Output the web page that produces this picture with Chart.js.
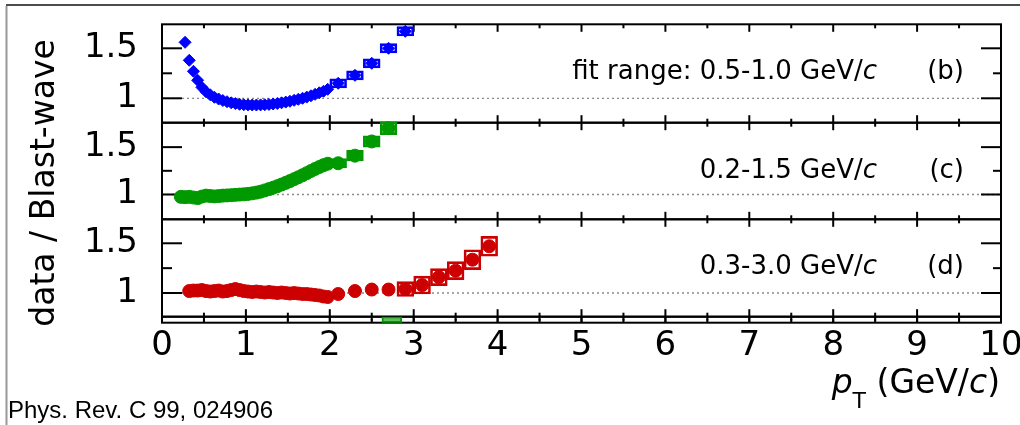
<!DOCTYPE html>
<html>
<head>
<meta charset="utf-8">
<script src="https://cdn.jsdelivr.net/npm/chart.js@4.4.1/dist/chart.umd.min.js"></script>
<style>
  html, body { margin: 0; padding: 0; background: #fff; }
  #wrap { position: relative; width: 1020px; height: 425px; }
</style>
</head>
<body>
<div id="wrap"><canvas id="chart" width="1020" height="425"></canvas></div>
<script>
const FONT = "'DejaVu Sans', sans-serif";

// panel (b): fit range 0.5-1.0 GeV/c
const bX = [0.275, 0.325, 0.375, 0.425, 0.475, 0.525, 0.575, 0.625, 0.675, 0.725, 0.775, 0.825, 0.875, 0.925, 0.975,
  1.025, 1.075, 1.125, 1.175, 1.225, 1.275, 1.325, 1.375, 1.425, 1.475, 1.525, 1.575, 1.625, 1.675, 1.725, 1.775,
  1.825, 1.875, 1.925, 1.975, 2.1, 2.3, 2.5, 2.7, 2.9];
const bY = [1.56, 1.38, 1.27, 1.18, 1.11, 1.065, 1.035, 1.01, 0.993, 0.978, 0.966, 0.955, 0.947, 0.94, 0.936,
  0.934, 0.933, 0.933, 0.934, 0.936, 0.939, 0.943, 0.948, 0.955, 0.962, 0.97, 0.98, 0.99, 1.0, 1.012, 1.025,
  1.04, 1.055, 1.07, 1.09, 1.15, 1.23, 1.35, 1.5, 1.67];
const bBoxX = [2.1, 2.3, 2.5, 2.7, 2.9];
const bSys = [0.045, 0.045, 0.045, 0.047, 0.047];

// panel (c): fit range 0.2-1.5 GeV/c
const gX = [0.225, 0.275, 0.325, 0.375, 0.425, 0.475, 0.525, 0.575, 0.625, 0.675, 0.725, 0.775, 0.825, 0.875, 0.925,
  0.975, 1.025, 1.075, 1.125, 1.175, 1.225, 1.275, 1.325, 1.375, 1.425, 1.475, 1.525, 1.575, 1.625, 1.675, 1.725,
  1.775, 1.825, 1.875, 1.925, 1.975, 2.1, 2.3, 2.5, 2.7];
const gY = [0.975, 0.972, 0.975, 0.968, 0.962, 0.978, 0.988, 0.984, 0.98, 0.983, 0.988, 0.99, 0.993, 0.996, 0.999,
  1.002, 1.006, 1.012, 1.02, 1.03, 1.043, 1.057, 1.072, 1.088, 1.105, 1.123, 1.142, 1.162, 1.182, 1.203, 1.225,
  1.248, 1.27, 1.29, 1.31, 1.325, 1.33, 1.41, 1.56, 1.7];
const gBoxX = [2.1, 2.3, 2.5, 2.7];
const gSys = [0.05, 0.055, 0.06, 0.068];

// panel (d): fit range 0.3-3.0 GeV/c
const rX = [0.325, 0.375, 0.425, 0.475, 0.525, 0.575, 0.625, 0.675, 0.725, 0.775, 0.825, 0.875, 0.925, 0.975,
  1.025, 1.075, 1.125, 1.175, 1.225, 1.275, 1.325, 1.375, 1.425, 1.475, 1.525, 1.575, 1.625, 1.675, 1.725, 1.775,
  1.825, 1.875, 1.925, 1.975, 2.1, 2.3, 2.5, 2.7, 2.9, 3.1, 3.3, 3.5, 3.7, 3.9];
const rY = [1.02, 1.025, 1.025, 1.03, 1.02, 1.015, 1.02, 1.025, 1.015, 1.02, 1.03, 1.04, 1.03, 1.02,
  1.015, 1.01, 1.015, 1.01, 1.005, 1.01, 1.005, 1.0, 1.005, 1.0, 0.995, 1.0, 0.995, 0.99, 0.99, 0.985,
  0.98, 0.975, 0.965, 0.96, 0.99, 1.02, 1.035, 1.035, 1.04, 1.08, 1.16, 1.225, 1.335, 1.47];
const rBoxX = [2.9, 3.1, 3.3, 3.5, 3.7, 3.9];
const rSys = [0.075, 0.09, 0.085, 0.09, 0.1, 0.1];

// the panel below (d) only shows the edge of one green box
const stripX = [2.74];
const stripRange = [0, 1];

const panelIds = ["yb", "yc", "yd"];
const panelMin = [0.756, 0.738, 0.762];
const panelMax = [1.74, 1.758, 1.741];
const fitText = ["fit range: 0.5-1.0 GeV/", "0.2-1.5 GeV/", "0.3-3.0 GeV/"];
const panelTags = ["(b)", "(c)", "(d)"];
const yTickValues = [1, 1.5];
const yMinorValues = [1.25];
const xTickLabels = ["0", "1", "2", "3", "4", "5", "6", "7", "8", "9", "10"];

const series = [
  { x: bX, y: bY, boxX: bBoxX, sys: bSys, axis: "yb", color: "#0000ff", style: "rectRot", r: 6 },
  { x: gX, y: gY, boxX: gBoxX, sys: gSys, axis: "yc", color: "#009a00", style: "circle", r: 6.5 },
  { x: rX, y: rY, boxX: rBoxX, sys: rSys, axis: "yd", color: "#cc0000", style: "circle", r: 6.5 },
];

const datasets = [];
series.forEach((s) => {
  datasets.push({
    type: "scatter",
    data: s.x.map((v, i) => ({ x: v, y: s.y[i] })),
    yAxisID: s.axis,
    pointStyle: s.style,
    pointRadius: s.r,
    backgroundColor: s.color,
    borderColor: s.color,
    borderWidth: 1,
    clip: false,
    order: 1,
  });
  // systematic boxes
  datasets.push({
    type: "bar",
    data: s.boxX.map((v, k) => {
      const c = s.y[s.x.indexOf(v)];
      return { x: v, y: [c - s.sys[k], c + s.sys[k]] };
    }),
    xAxisID: "x",
    yAxisID: s.axis,
    backgroundColor: "rgba(255,255,255,0)",
    borderColor: s.color,
    borderWidth: 2,
    borderSkipped: false,
    barPercentage: 1,
    categoryPercentage: 1,
    grouped: false,
    clip: false,
    order: 2,
  });
});
datasets.push({
  type: "bar",
  data: stripX.map((v) => ({ x: v, y: stripRange })),
  xAxisID: "xs",
  yAxisID: "ys",
  backgroundColor: "#5fbf5f",
  borderColor: "#009a00",
  borderWidth: 2,
  borderSkipped: false,
  barThickness: 20,
  grouped: false,
  order: 2,
});

// chart.js pads the area for overhanging tick labels; the frame is placed by hand instead
const noPad = (s) => { s.paddingTop = 0; s.paddingBottom = 0; s.paddingLeft = 0; s.paddingRight = 0; };

const scales = {
  x: {
    type: "linear", min: 0, max: 10, offset: false,
    grid: { display: false, drawTicks: false, offset: false }, border: { display: false },
    afterBuildTicks: (s) => { s.ticks = xTickLabels.map((t, i) => ({ value: i })); },
    ticks: { padding: 3, color: "#000", font: { family: FONT, size: 34 }, callback: (v, i) => xTickLabels[i] },
    afterFit: (s) => { s.height = 102.3; noPad(s); },
  },
  xs: { type: "linear", min: 0, max: 10, offset: false, display: false },
};
// stacked axes are laid out bottom-up, so the strip goes in first
scales.ys = {
  type: "linear", position: "left", stack: "ratio", stackWeight: 6,
  min: stripRange[0], max: stripRange[1],
  grid: { display: false, drawTicks: false }, border: { display: false },
  ticks: { display: false },
  afterFit: (s) => { s.width = 162; noPad(s); },
};
const weights = [98.4, 96.6, 97.4];
[2, 1, 0].forEach((i) => {
  scales[panelIds[i]] = {
    type: "linear", position: "left", stack: "ratio", stackWeight: weights[i],
    min: panelMin[i], max: panelMax[i],
    grid: { display: false, drawTicks: false }, border: { display: false },
    afterBuildTicks: (s) => { s.ticks = yTickValues.map((v) => ({ value: v })); },
    ticks: { padding: 24, color: "#000", font: { family: FONT, size: 34 }, callback: (v) => String(v) },
    afterFit: (s) => { s.width = 162; noPad(s); },
  };
});

function line(ctx, x1, y1, x2, y2) {
  ctx.beginPath();
  ctx.moveTo(x1, y1);
  ctx.lineTo(x2, y2);
  ctx.stroke();
}

// frames, ticks and the dotted line at 1, under the points
const frames = {
  id: "frames",
  beforeDatasetsDraw(chart) {
    const { ctx, chartArea } = chart;
    const { left, right } = chartArea;
    const xs = chart.scales.x;
    ctx.save();
    ctx.strokeStyle = "#8a8a8a";
    ctx.lineWidth = 1.3;
    ctx.setLineDash([2, 3]);
    panelIds.forEach((id) => {
      const y = chart.scales[id].getPixelForValue(1);
      line(ctx, left, y, right, y);
    });
    ctx.setLineDash([]);
    ctx.strokeStyle = "#000";
    ctx.lineWidth = 2;
    [...panelIds, "ys"].forEach((id) => {
      const s = chart.scales[id];
      const h = s.bottom - s.top;
      ctx.strokeRect(left, s.top, right - left, h);
      for (let v = 0; v <= 10; v += 0.5) {
        const px = xs.getPixelForValue(v);
        const len = Math.min(Number.isInteger(v) ? 7.5 : 4, h);
        line(ctx, px, s.top, px, s.top + len);
        line(ctx, px, s.bottom, px, s.bottom - len);
      }
      if (id === "ys") return;
      yTickValues.forEach((v) => {
        const py = s.getPixelForValue(v);
        line(ctx, left, py, left + 20, py);
        line(ctx, right, py, right - 20, py);
      });
      yMinorValues.forEach((v) => {
        const py = s.getPixelForValue(v);
        line(ctx, left, py, left + 10, py);
        line(ctx, right, py, right - 8, py);
      });
    });
    ctx.restore();
  },
  afterDraw(chart) {
    const { ctx, chartArea } = chart;
    ctx.save();
    ctx.fillStyle = "#000";

    // panel captions: regular text followed by an italic c
    panelIds.forEach((id, i) => {
      const s = chart.scales[id];
      const base = s.top + 55;
      const endX = chartArea.right - 124;
      ctx.font = "italic 26px " + FONT;
      const wc = ctx.measureText("c").width;
      ctx.font = "26px " + FONT;
      const wt = ctx.measureText(fitText[i]).width;
      ctx.textAlign = "left";
      ctx.textBaseline = "alphabetic";
      ctx.fillText(fitText[i], endX - wc - wt, base);
      ctx.font = "italic 26px " + FONT;
      ctx.fillText("c", endX - wc, base);
      ctx.font = "26px " + FONT;
      ctx.textAlign = "right";
      ctx.fillText(panelTags[i], chartArea.right - 37, base);
    });

    // y title
    ctx.save();
    ctx.translate(45, 183);
    ctx.rotate(-Math.PI / 2);
    ctx.font = "33px " + FONT;
    ctx.textAlign = "center";
    ctx.textBaseline = "middle";
    ctx.fillText("data / Blast-wave", 0, 0);
    ctx.restore();

    // x title: p_T (GeV/c)
    const parts = [
      { t: "p", f: "italic 33px " + FONT, dy: 0 },
      { t: "T", f: "22px " + FONT, dy: 15 },
      { t: " (GeV/", f: "33px " + FONT, dy: 0 },
      { t: "c", f: "italic 33px " + FONT, dy: 0 },
      { t: ")", f: "33px " + FONT, dy: 0 },
    ];
    let total = 0;
    parts.forEach((p) => { ctx.font = p.f; p.w = ctx.measureText(p.t).width; total += p.w; });
    let px = 1000 - total;
    ctx.textAlign = "left";
    ctx.textBaseline = "alphabetic";
    parts.forEach((p) => { ctx.font = p.f; ctx.fillText(p.t, px, 393 + p.dy); px += p.w; });

    // reference line at the bottom
    ctx.font = "24px 'Liberation Sans', Arial, sans-serif";
    ctx.fillText("Phys. Rev. C 99, 024906", 8, 418);

    // outer border
    ctx.strokeStyle = "#111";
    ctx.lineWidth = 1.5;
    line(ctx, 6, 5, 1020, 5);
    ctx.strokeStyle = "#999";
    ctx.lineWidth = 2;
    line(ctx, 6.5, 6, 6.5, 425);
    ctx.restore();
  },
};

new Chart(document.getElementById("chart"), {
  type: "scatter",
  data: { datasets },
  options: {
    responsive: false,
    animation: false,
    events: [],
    layout: { padding: { left: 0, right: 19, top: 24.3, bottom: 0 } },
    scales,
    plugins: { legend: { display: false }, tooltip: { enabled: false } },
  },
  plugins: [frames],
});
</script>
</body>
</html>
